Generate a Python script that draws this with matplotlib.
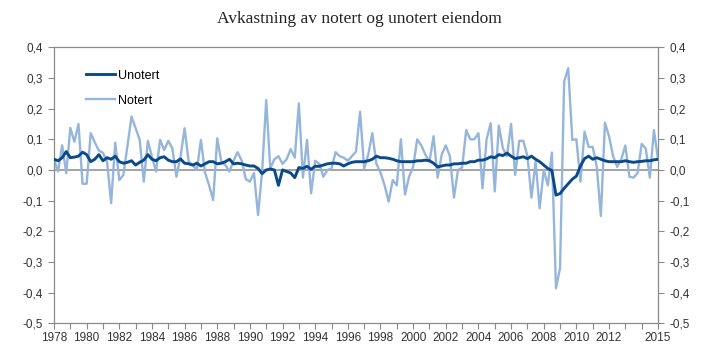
import numpy as np
import matplotlib
matplotlib.use('Agg')
import matplotlib.pyplot as plt
from matplotlib.ticker import FuncFormatter

# Quarterly returns, 1978Q1 - 2015Q1
start_year = 1978

unotert = [
    0.035, 0.030, 0.040, 0.060, 0.040, 0.042, 0.045, 0.058, 0.050, 0.027,
    0.035, 0.050, 0.030, 0.040, 0.035, 0.045, 0.027, 0.022, 0.025, 0.030,
    0.016, 0.025, 0.032, 0.050, 0.035, 0.030, 0.040, 0.043, 0.032, 0.027,
    0.027, 0.036, 0.022, 0.020, 0.016, 0.022, 0.013, 0.020, 0.027, 0.027,
    0.020, 0.022, 0.027, 0.035, 0.020, 0.022, 0.020, 0.016, 0.013, 0.013,
    0.005, -0.012, 0.000, 0.003, 0.000, -0.050, 0.000, -0.005, -0.010, -0.025,
    0.008, 0.005, 0.012, 0.002, 0.012, 0.012, 0.016, 0.020, 0.022, 0.022,
    0.020, 0.013, 0.020, 0.025, 0.027, 0.027, 0.027, 0.030, 0.035, 0.045,
    0.040, 0.040, 0.038, 0.035, 0.030, 0.027, 0.027, 0.027, 0.027, 0.030,
    0.030, 0.032, 0.030, 0.022, 0.010, 0.013, 0.016, 0.016, 0.020, 0.020,
    0.022, 0.022, 0.027, 0.027, 0.032, 0.032, 0.036, 0.043, 0.040, 0.050,
    0.047, 0.055, 0.045, 0.037, 0.040, 0.043, 0.037, 0.045, 0.035, 0.027,
    0.016, 0.005, -0.002, -0.082, -0.077, -0.060, -0.045, -0.030, -0.020, 0.013,
    0.037, 0.045, 0.035, 0.040, 0.035, 0.030, 0.027, 0.027, 0.027, 0.027,
    0.030, 0.027, 0.025, 0.027, 0.028, 0.030, 0.030, 0.033, 0.035,
]

notert = [
    0.033, -0.005, 0.080, -0.010, 0.137, 0.092, 0.150, -0.045, -0.045, 0.120,
    0.090, 0.063, 0.056, 0.027, -0.108, 0.089, -0.033, -0.016, 0.080, 0.174,
    0.136, 0.098, -0.038, 0.095, 0.043, -0.005, 0.098, 0.065, 0.095, 0.070,
    -0.022, 0.043, 0.136, 0.027, 0.016, 0.000, 0.098, -0.008, -0.050, -0.098,
    0.103, 0.027, 0.016, -0.005, 0.030, 0.058, 0.030, -0.030, -0.038, -0.010,
    -0.147, -0.005, 0.228, 0.005, 0.035, 0.045, 0.020, 0.035, 0.068, 0.040,
    0.217, -0.025, 0.098, -0.076, 0.030, 0.020, -0.022, 0.000, 0.005, 0.058,
    0.045, 0.040, 0.030, 0.045, 0.060, 0.190, 0.005, 0.050, 0.120, 0.020,
    -0.008, -0.050, -0.103, -0.033, -0.050, 0.100, -0.080, -0.022, 0.010, 0.100,
    0.080, 0.050, 0.027, 0.110, -0.025, 0.050, 0.080, 0.045, -0.090, 0.000,
    0.008, 0.130, 0.100, 0.100, 0.120, -0.060, 0.100, 0.152, -0.070, 0.145,
    0.070, 0.045, 0.150, -0.016, 0.095, 0.095, 0.045, -0.090, 0.027, -0.125,
    0.000, -0.050, 0.057, -0.386, -0.320, 0.288, 0.332, 0.098, 0.100, -0.038,
    0.125, 0.075, 0.075, 0.010, -0.150, 0.154, 0.110, 0.045, 0.010, 0.035,
    0.080, -0.022, -0.025, -0.010, 0.085, 0.070, -0.025, 0.130, 0.035,
]

x = start_year + np.arange(len(notert)) / 4.0

year_ticks = list(range(1978, 2016))
year_labels = [str(y) if (y % 2 == 0 and y <= 2012) or y == 2015 else '' for y in year_ticks]

dark_blue = '#0b4a8a'
light_blue = '#95b5db'
grey = '#8a8a8a'

fig = plt.figure(figsize=(7.19, 3.62), dpi=100)
ax = fig.add_axes([54 / 719, 1 - 323.3 / 362, (658 - 54) / 719, (323.3 - 47.3) / 362])

ax.axhline(0, color=grey, linewidth=1.1, zorder=1)
ax.plot(x, notert, color=light_blue, linewidth=1.7, label='Notert', zorder=2)
ax.plot(x, unotert, color=dark_blue, linewidth=2.1, label='Unotert', zorder=3)

ax.set_xlim(1978, 2015)
ax.set_ylim(-0.5, 0.4)
ax.set_yticks(np.arange(-0.5, 0.41, 0.1))
ax.yaxis.set_major_formatter(FuncFormatter(lambda v, p: f'{v:.1f}'.replace('.', ',').replace('-0,0', '0,0')))
ax.set_xticks(year_ticks)
ax.set_xticklabels(year_labels)

for s in ax.spines.values():
    s.set_color(grey)
    s.set_linewidth(0.9)

ax.tick_params(axis='both', colors='#333333', labelsize=8.5, length=4, width=0.8, color=grey)
ax.tick_params(axis='y', right=True, labelright=True, pad=4)
ax.tick_params(axis='x', pad=2)

for lbl in ax.get_xticklabels() + ax.get_yticklabels():
    lbl.set_fontfamily('Liberation Sans')
for lbl in ax.yaxis.get_ticklabels(which='major'):
    lbl.set_fontfamily('Liberation Sans')

handles, labels = ax.get_legend_handles_labels()
leg = ax.legend(handles[::-1], labels[::-1], loc='upper left', bbox_to_anchor=(0.035, 0.96),
                frameon=False, handlelength=2.3, handletextpad=0.2, labelspacing=1.05,
                prop={'family': 'Liberation Sans', 'size': 9})

fig.text(0.5, 0.948, 'Avkastning av notert og unotert eiendom', ha='center', va='center',
         fontsize=12.5, family='Liberation Serif', color='#222222')

fig.savefig('out.png', dpi=100)
